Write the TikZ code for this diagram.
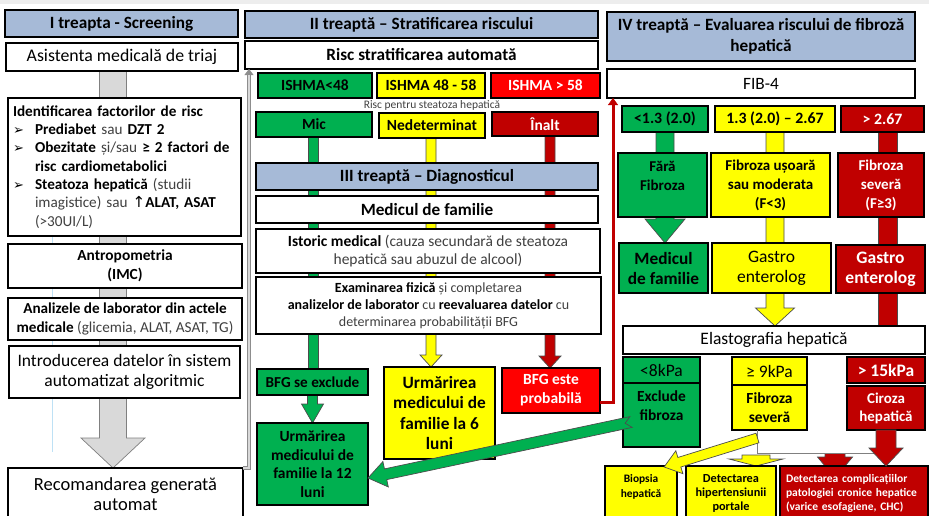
\documentclass[tikz,border=0pt]{standalone}
\usepackage{fontspec}
\setmainfont{Carlito}
\newfontfamily\symf{DejaVu Sans}
\usetikzlibrary{calc,arrows.meta}
\pgfdeclarelayer{bg}
\pgfsetlayers{bg,main}
\definecolor{hdr}{RGB}{166,186,215}
\definecolor{grn}{RGB}{0,176,80}
\definecolor{yel}{RGB}{255,255,0}
\definecolor{rd}{RGB}{255,0,0}
\definecolor{drd}{RGB}{192,0,0}
\definecolor{lgr}{RGB}{217,217,217}
\definecolor{dgr}{RGB}{128,128,128}
\definecolor{txg}{RGB}{64,64,64}
\definecolor{lblue}{RGB}{190,225,245}
\newcommand\fs[2]{\fontsize{#1}{#2}\selectfont}
\newcommand\bul{\makebox[22pt][l]{\symf\fontsize{13}{13}\selectfont ➢}}
\newcommand\ind{\hspace*{22pt}}
\newcommand\bx[7]{%
  \pgfmathsetmacro\bxw{#4-#2}\pgfmathsetmacro\bxh{#5-#3}%
  \pgfmathsetmacro\bxcx{(#2+#4)/2}\pgfmathsetmacro\bxcy{(#3+#5)/2}%
  \node[box, minimum width=\bxw pt, minimum height=\bxh pt, #6] (#1) at (\bxcx,\bxcy) {#7};}
\newcommand\barrow[8]{%
  \path let \p1=#2, \p2=#3, \n1={atan2(\y2-\y1,\x2-\x1)}, \n2={veclen(\x2-\x1,\y2-\y1)} in
    \pgfextra{\xdef\baang{\n1}\xdef\balen{\n2}};
  \begin{scope}[shift={#2}, rotate=\baang, x=1pt, y=1pt]
    \filldraw[blk, fill=#1, #8] (0,-#4/2) -- ({\balen-#6},-#4/2) -- ({\balen-#6},-#5/2)
      -- (\balen,0) -- ({\balen-#6},#5/2) -- ({\balen-#6},#4/2) -- (0,#4/2) -- (#7,0) -- cycle;
  \end{scope}}
\begin{document}
\begin{tikzpicture}[x=1pt,y=-1pt,
  box/.style={draw=black, line width=1.3pt, inner sep=2pt, outer sep=0pt, align=center, fill=white, text=black},
  blk/.style={draw=black!70, line width=0.7pt},
  hd/.style={fill=hdr, font=\fs{17.2}{21}\bfseries},
  b15/.style={font=\fs{15.5}{18}\bfseries}]
\useasboundingbox (0,0) rectangle (929,515);
\fill[black!7] (0,0) rectangle (929,4);

% ---------- left column
\bx{h1}{5}{10}{238}{37}{hd}{I treapta - Screening}
\bx{asis}{6}{43}{238}{71}{font=\fs{17.8}{21}}{Asistenta medicală de triaj}
\bx{ident}{8}{98}{241}{236}{align=left, text width=223pt, font=\fs{15.2}{18.3}}{%
\textbf{Identificarea factorilor de risc}\\
\bul\textbf{Prediabet} {\color{txg}sau} \textbf{DZT 2}\\
\bul\textbf{Obezitate} {\color{txg}și/sau} \textbf{≥ 2 factori de}\\
\ind\textbf{risc cardiometabolici}\\
\bul\textbf{Steatoza hepatică} {\color{txg}(studii}\\
\ind{\color{txg}imagistice) sau} {\symf ↑}\textbf{ALAT, ASAT}\\
\ind{\color{txg}(>30UI/L)}}
\bx{antro}{8}{244}{242}{288}{font=\fs{15.4}{19}\bfseries}{Antropometria\\(IMC)}
\bx{anal}{8}{298}{242}{340}{font=\fs{15.2}{19}}{\textbf{Analizele de laborator din actele}\\\textbf{medicale} {\color{txg}(glicemia, ALAT, ASAT, TG)}}
\bx{intro}{9}{346}{240}{398}{font=\fs{17.5}{19.5}}{Introducerea datelor în sistem\\automatizat algoritmic}
\bx{rec}{8}{468}{243}{520}{font=\fs{18.5}{20.5}}{Recomandarea generată\\automat}

% ---------- middle column
\bx{h2}{245}{11}{598}{38}{hd}{II treaptă – Stratificarea riscului}
\bx{risc}{245}{41}{598}{69}{font=\fs{17.2}{20}\bfseries}{Risc stratificarea automată}
\bx{ish1}{258}{73}{372}{98}{fill=grn, b15}{ISHMA<48}
\bx{ish2}{377}{73}{485}{98}{fill=yel, b15}{ISHMA 48 - 58}
\bx{ish3}{491}{73}{600}{98}{fill=rd, text=white, b15}{ISHMA > 58}
\node[font=\fs{11.5}{13}, text=txg, inner sep=0pt] (rps) at (432,105) {Risc pentru steatoza hepatică};
\bx{mic}{256}{112}{372}{137}{fill=grn, b15}{Mic}
\bx{ned}{379}{113}{485}{138}{fill=yel, b15}{Nedeterminat}
\bx{inalt}{492}{112}{598}{136}{fill=drd, text=white, b15}{Înalt}
\bx{h3}{256}{163}{598}{190}{hd}{III treaptă – Diagnosticul}
\bx{medf}{256}{196}{598}{223}{font=\fs{17.2}{20}\bfseries}{Medicul de familie}
\bx{ist}{256}{229}{600}{273}{font=\fs{15.5}{18}}{\textbf{Istoric medical} {\color{txg}(cauza secundară de steatoza}\\{\color{txg}hepatică sau abuzul de alcool)}}
\bx{exam}{256}{277}{601}{334}{font=\fs{14}{17}}{\textbf{Examinarea fizică} {\color{txg}și completarea}\\\textbf{analizelor de laborator} {\color{txg}cu} \textbf{reevaluarea datelor} {\color{txg}cu}\\{\color{txg}determinarea probabilității BFG}}
\bx{bfgex}{257}{369}{368}{395}{fill=grn, font=\fs{15.2}{18}\bfseries}{BFG se exclude}
\bx{u6}{384}{367}{495}{459}{fill=yel, font=\fs{17.3}{20.3}\bfseries}{Urmărirea\\medicului de\\familie la 6\\luni}
\bx{bfgp}{502}{368}{600}{413}{fill=rd, text=white, font=\fs{15.5}{19}\bfseries}{BFG este\\probabilă}
\bx{u12}{257}{423}{368}{505}{fill=grn, font=\fs{15.5}{18.6}\bfseries}{Urmărirea\\medicului de\\familie la 12\\luni}

% ---------- right column
\bx{h4}{607}{12}{915}{61}{hd}{IV treaptă – Evaluarea riscului de fibroză\\hepatică}
\bx{fib}{607}{69}{915}{98}{font=\fs{17.3}{20}}{FIB-4}
\bx{t1}{622}{106}{708}{132}{fill=grn, font=\fs{15.8}{18}\bfseries}{<1.3 (2.0)}
\bx{t2}{715}{106}{835}{132}{fill=yel, font=\fs{15.8}{18}\bfseries}{1.3 (2.0) – 2.67}
\bx{t3}{841}{106}{924}{132}{fill=drd, text=white, font=\fs{15.8}{18}\bfseries}{> 2.67}
\bx{ff}{618}{153}{707}{217}{fill=grn, font=\fs{15}{19}\bfseries}{Fără\\Fibroza\\\mbox{}}
\bx{fu}{711}{153}{830}{217}{fill=yel, font=\fs{15}{19}\bfseries}{Fibroza ușoară\\sau moderata\\(F<3)}
\bx{fs}{838}{153}{924}{217}{fill=drd, text=white, font=\fs{15}{19}\bfseries}{Fibroza\\severă\\(F≥3)}
\bx{mf2}{619}{243}{708}{293}{fill=grn, font=\fs{17.3}{20}\bfseries}{Medicul\\de familie}
\bx{ge1}{712}{243}{831}{293}{fill=yel, font=\fs{17.5}{20}}{Gastro\\enterolog}
\bx{ge2}{836}{245}{925}{293}{fill=drd, text=white, font=\fs{17.5}{20}\bfseries}{Gastro\\enterolog}
\bx{ela}{623}{326}{925}{354}{font=\fs{17.5}{20}}{Elastografia hepatică}
\bx{k8}{623}{357}{700}{383}{fill=grn, font=\fs{17.5}{20}}{<8kPa}
\bx{exf}{623}{383}{700}{447}{fill=grn, font=\fs{15.4}{19}\bfseries}{Exclude\\fibroza\\\mbox{}}
\bx{k9}{732}{357}{807}{385}{fill=yel, font=\fs{17.5}{20}}{≥ 9kPa}
\bx{fsev}{732}{385}{807}{430}{fill=yel, font=\fs{15.4}{19}\bfseries}{Fibroza\\severă}
\bx{k15}{847}{357}{925}{383}{fill=drd, text=white, font=\fs{17.5}{20}\bfseries}{> 15kPa}
\bx{ciz}{847}{386}{925}{430}{fill=drd, text=white, font=\fs{15}{18}\bfseries}{Ciroza\\hepatică}
\bx{bio}{605}{466}{677}{520}{fill=yel, font=\fs{11.4}{15}\bfseries}{Biopsia\\hepatică\\\mbox{}}
\bx{dhp}{686}{466}{776}{520}{fill=yel, font=\fs{12.3}{14}\bfseries}{Detectarea\\hipertensiunii\\portale}
\bx{dcp}{780}{466}{928}{520}{fill=drd, text=white, align=left, text width=136pt, font=\fs{11.5}{14}\bfseries}{Detectarea complicațiilor\\patologiei cronice hepatice\\(varice esofagiene, CHC)}

% ---------- arrows behind the boxes
\begin{pgfonlayer}{bg}
\draw[lblue, line width=0.8pt] (52,236) -- (52,452);
\coordinate (gA) at ($(asis.south)+(-9,0)$);
\barrow{lgr}{(gA)}{(gA |- rec.north)}{27}{64}{30}{0}{draw=dgr}
\filldraw[blk, fill=grn] ($(mic.south)+(-6,0)$) rectangle ($(mic.south |- bfgex.north)+(4,0)$);
\barrow{grn}{(bfgex.south)}{(bfgex.south |- u12.north)}{10}{22}{19}{0}{}
\coordinate (yA) at ($(ned.south)+(-1,0)$);
\barrow{yel}{(yA)}{(yA |- u6.north)}{10}{22}{12}{0}{}
\coordinate (rA) at ($(inalt.south)+(5,0)$);
\barrow{drd}{(rA)}{(rA |- bfgp.north)}{10}{22}{12}{0}{}
\barrow{grn}{(t1.south)}{(t1.south |- mf2.north)}{18}{40}{24}{0}{}
\barrow{yel}{(t2.south)}{(t2.south |- ela.north)}{18}{39}{18}{0}{}
\coordinate (rB) at ($(t3.south)+(5,0)$);
\filldraw[blk, fill=drd] ($(rB)+(-9.5,0)$) rectangle ($(rB |- ela.north)+(9.5,2)$);
\coordinate (rL) at (835,440);
\barrow{drd}{(rL)}{($(rL |- dcp.north)+(0,12)$)}{20}{35}{21}{0}{}
\coordinate (yS) at (756,455);
\barrow{yel}{(yS)}{(yS |- dhp.north)}{28}{54}{7}{0}{}
\end{pgfonlayer}

% ---------- arrows in front
\fill[white] ($(fsev.south west)+(25,1)$) rectangle ($(ciz.south west)+(30,23)$);
\draw[dgr, line width=0.8pt] ($(fsev.south west)+(25,0)$) |- ($(ciz.south west)+(30,23)$);
\barrow{drd}{(ciz.south)}{(ciz.south |- dcp.north)}{20}{34}{18}{0}{}
\coordinate (gD1) at ($(exf.west)+(8,7)$);
\coordinate (gD2) at ($(u12.east)+(0,14)$);
\barrow{grn}{(gD1)}{(gD2)}{11}{26}{18}{6}{}
\coordinate (yD1) at ($(fsev.south)+(-12,8)$);
\coordinate (yD2) at ($(bio.north)+(23,1)$);
\barrow{yel}{(yD1)}{(yD2)}{10}{24}{16}{0}{}

\draw[line width=4.5pt, draw=dgr!90, -{Triangle[length=6pt,width=9pt,line width=0.5pt]}] (rec.north east) -| ($(risc.south west)+(4,0)$);
\draw[line width=2pt, draw=lgr, shorten >=6pt] (rec.north east) -| ($(risc.south west)+(4,0)$);
\draw[line width=3pt, draw=drd, -{Triangle[length=7pt,width=10pt,line width=0.5pt]}] ($(bfgp.east)+(0,12)$) -| ($(fib.south west)+(6,0)$);
\end{tikzpicture}
\end{document}
